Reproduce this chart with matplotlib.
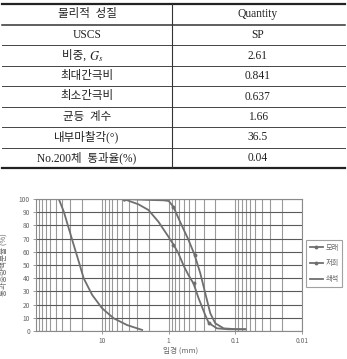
import matplotlib
matplotlib.use('Agg')
import matplotlib.pyplot as plt
from matplotlib.ticker import LogLocator, MultipleLocator, NullFormatter, FixedLocator, FixedFormatter

plt.rcParams['mathtext.fontset'] = 'stix'

# table data
props = ['물리적  성질', 'USCS', '비중, ', '최대간극비', '최소간극비',
         '균등  계수', '내부마찰각(°)', 'No.200체  통과율(%)']
vals = ['Quantity', 'SP', '2.61', '0.841', '0.637', '1.66', '36.5', '0.04']
gs_symbol = '$G_s$'   # follows "비중, " in row 2

# grain size curves (diameter mm, percent passing)
sand_d = [4.75, 2.0, 1.2, 1.0, 0.85, 0.68, 0.51, 0.41, 0.336, 0.283, 0.238, 0.2, 0.15, 0.1, 0.071]
sand_p = [100, 99.3, 99, 98.5, 94, 83, 69.5, 57.8, 43.7, 28.6, 13.4, 5.8, 2.0, 1.4, 1.3]
sand_mark = [0, 4, 7]

ash_d = [4.75, 2.86, 2.02, 1.43, 1.01, 0.85, 0.718, 0.598, 0.508, 0.425, 0.356, 0.283, 0.25, 0.189, 0.126, 0.071]
ash_p = [100, 96, 91.7, 82.8, 71.4, 65.5, 59, 49.5, 42.5, 36, 24.7, 12, 6, 2.0, 1.3, 1.3]
ash_mark = [0, 5, 9, 12]

stone_d = [44.7, 37.6, 31.7, 26.7, 22.4, 18.9, 14.1, 10.0, 6.7, 4.22, 2.51]
stone_p = [100, 90.4, 77.8, 65.2, 52.5, 39.9, 27.3, 17.2, 9.6, 4.5, 0.8]

legend_labels = ['모래', '저회', '쇄석']

W, H = 347, 359
fig = plt.figure(figsize=(W / 100, H / 100), dpi=100)

# ---- table ----
tab = fig.add_axes([0, 0, 1, 1])
tab.set_xlim(0, W)
tab.set_ylim(H, 0)
tab.axis('off')
tfont = ['Liberation Serif', 'Noto Sans CJK KR']
top, bot = 4, 168
row_h = (bot - 25) / 7.0
lines_y = [25 + i * row_h for i in range(8)]
tab.plot([2, 345], [top, top], color='#222222', lw=1.6)
tab.plot([2, 345], [bot, bot], color='#222222', lw=1.6)
tab.plot([2, 345], [lines_y[0], lines_y[0]], color='#333333', lw=1.1)
for y in lines_y[1:-1]:
    tab.plot([2, 345], [y, y], color='#444444', lw=0.7)
tab.plot([172, 172], [top, bot], color='#333333', lw=0.8)
row_c = [(top + 25) / 2] + [25 + (i + 0.5) * row_h for i in range(7)]
for i in range(len(props)):
    if i == 2:
        tab.text(89, row_c[i], props[i], ha='right', va='center', fontsize=8.3,
                 family=tfont, color='#222222')
        tab.text(89, row_c[i] + 0.5, gs_symbol, ha='left', va='center', fontsize=9,
                 color='#222222')
    else:
        tab.text(87, row_c[i], props[i], ha='center', va='center', fontsize=8.3,
                 family=tfont, color='#222222')
    tab.text(258, row_c[i], vals[i], ha='center', va='center', fontsize=8.3,
             family=tfont, color='#222222')

# ---- chart ----
l, r, t, b = 35.5, 302, 199, 331
ax = fig.add_axes([l / W, 1 - b / H, (r - l) / W, (b - t) / H])
lc = '#6f6f6f'
ax.plot(sand_d, sand_p, color=lc, lw=1.3, marker='o', ms=1.8, markevery=sand_mark, label=legend_labels[0])
ax.plot(ash_d, ash_p, color=lc, lw=1.3, marker='o', ms=1.8, markevery=ash_mark, label=legend_labels[1])
ax.plot(stone_d, stone_p, color=lc, lw=1.3, label=legend_labels[2])

ax.set_xscale('log')
ax.set_xlim(100, 0.01)
ax.set_ylim(0, 100)
ax.yaxis.set_major_locator(MultipleLocator(10))
ax.xaxis.set_major_locator(FixedLocator([10, 1, 0.1, 0.01]))
ax.xaxis.set_major_formatter(FixedFormatter(['10', '1', '0.1', '0.01']))
ax.xaxis.set_minor_locator(LogLocator(base=10, subs=range(2, 10)))
ax.xaxis.set_minor_formatter(NullFormatter())
ax.grid(True, axis='y', color='#5a5a5a', lw=0.8)
ax.grid(True, axis='x', which='both', color='#9a9a9a', lw=0.8)
ax.set_axisbelow(True)
for s in ax.spines.values():
    s.set_color('#8a8a8a')
    s.set_linewidth(0.8)
ax.tick_params(axis='both', which='both', labelsize=4.8, colors='#8a8a8a',
               labelcolor='#666666', length=2, width=0.6, pad=2)
ax.tick_params(axis='x', which='minor', length=0)
for lab in ax.get_xticklabels() + ax.get_yticklabels():
    lab.set_family('Noto Sans CJK KR')

ax.set_xlabel('입경 (mm)', fontsize=5.5, color='#666666', family='Noto Sans CJK KR')
ax.xaxis.set_label_coords((181 - l) / (r - l), -0.12)
ax.set_ylabel('통과중량백분율 (%)', fontsize=5.5, color='#666666', family='Noto Sans CJK KR')
ax.yaxis.set_label_coords(-0.105, 0.5)

leg = ax.legend(loc='center left', bbox_to_anchor=(306 / W, 1 - 263.5 / H),
                bbox_transform=fig.transFigure, fancybox=False, frameon=True,
                prop={'family': 'Noto Sans CJK KR', 'size': 5.2},
                handlelength=1.9, handletextpad=0.3, labelspacing=1.1,
                borderpad=0.5, borderaxespad=0)
leg.get_frame().set_edgecolor('#8a8a8a')
leg.get_frame().set_linewidth(0.8)
for txt in leg.get_texts():
    txt.set_color('#666666')

fig.savefig('out.png', dpi=100)
